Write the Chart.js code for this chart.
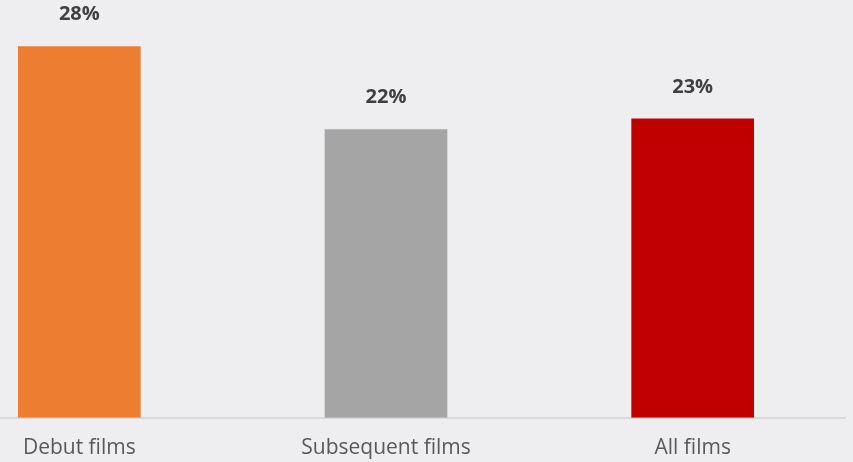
<!DOCTYPE html>
<html>
<head>
<meta charset="utf-8">
<script src="https://cdn.jsdelivr.net/npm/chart.js@4.4.1/dist/chart.umd.min.js"></script>
<style>
  html, body { margin: 0; padding: 0; background: #eeeef1; overflow: hidden; }
  #caja { position: absolute; left: -74px; top: 0; width: 920px; height: 479px; }
</style>
</head>
<body>
<div id="caja"><canvas id="grafico"></canvas></div>
<script>
// Datos
const categorias = ["Debut films", "Subsequent films", "All films"];
const valores = [28.2, 21.9, 22.7];
const colores = ["#ED7D31", "#A5A5A5", "#C00000"];

// Etiquetas de porcentaje sobre cada barra
const etiquetasValor = {
    id: 'etiquetasValor',
    afterDatasetsDraw(chart) {
        const ctx = chart.ctx;
        const meta = chart.getDatasetMeta(0);
        ctx.save();
        ctx.font = 'bold 20px "Open Sans", sans-serif';
        ctx.fillStyle = '#404040';
        ctx.textAlign = 'center';
        ctx.textBaseline = 'alphabetic';
        meta.data.forEach((barra, i) => {
            ctx.fillText(Math.round(valores[i]) + '%', barra.x, barra.y - 26);
        });
        ctx.restore();
    }
};

const ctx = document.getElementById('grafico').getContext('2d');
new Chart(ctx, {
    type: 'bar',
    data: {
        labels: categorias,
        datasets: [{
            data: valores,
            backgroundColor: colores,
            barPercentage: 0.4,
            categoryPercentage: 1
        }]
    },
    options: {
        responsive: true,
        maintainAspectRatio: false,
        animation: false,
        layout: { padding: 0 },
        plugins: {
            legend: { display: false },
            tooltip: { enabled: false }
        },
        scales: {
            y: {
                display: false,
                min: 0,
                max: 31.7
            },
            x: {
                grid: { display: false, drawTicks: false },
                border: { display: true, color: '#d9d9d9', width: 2 },
                ticks: {
                    color: '#595959',
                    padding: 18,
                    font: { family: '"Open Sans", sans-serif', size: 21 }
                }
            }
        }
    },
    plugins: [etiquetasValor]
});
</script>
</body>
</html>
